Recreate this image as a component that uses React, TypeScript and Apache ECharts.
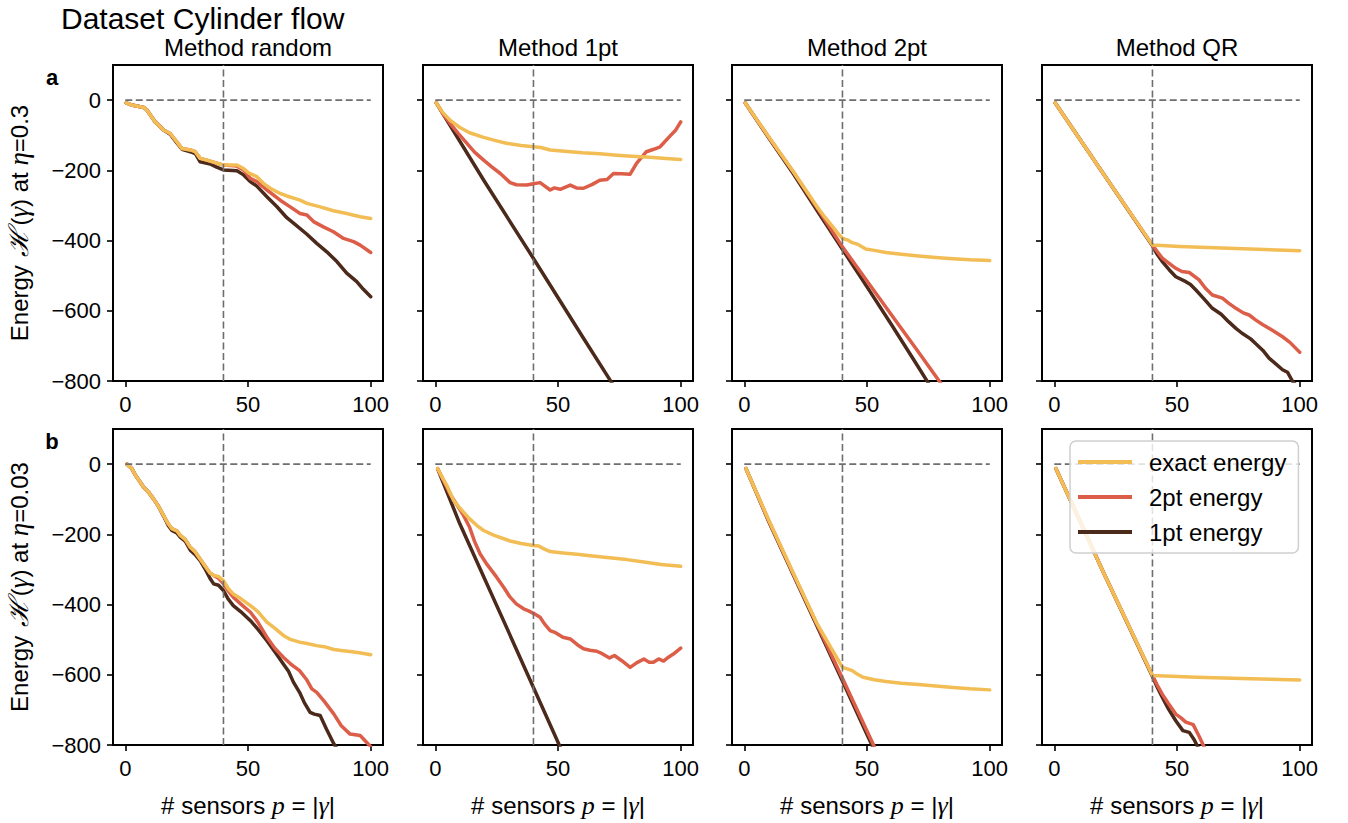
import React, { useEffect, useRef } from 'react';
import * as echarts from 'echarts';

const FONT = '"Liberation Sans", Arial, Helvetica, sans-serif';
const MATH = '"Liberation Serif", "DejaVu Serif", serif';

const C_EXACT = '#f2bd54';
const C_TWO = '#dc5e49';
const C_ONE = '#4b2a1b';
const C_REF = '#6e6e6e';

const methods = ['Method random', 'Method 1pt', 'Method 2pt', 'Method QR'];
const etas = ['0.3', '0.03'];
const rowTags = ['a', 'b'];
const seriesNames = ['exact energy', '2pt energy', '1pt energy'];
const xTicks = [0, 50, 100];
const yTicks = [-800, -600, -400, -200, 0];
const refX = 40;

// ---- row a (eta = 0.3) ----
const a1Early = [[0.4, -8], [2.7, -14], [7.5, -21], [8.8, -28], [12.2, -62], [15.6, -85], [18.3, -95], [21, -119], [23.1, -138], [26.5, -142], [28.5, -147], [30.5, -166], [33.2, -171], [36.6, -178], [40, -185]];
const a1ExactTail = [[45.5, -185], [48.2, -195], [50.2, -207], [53.6, -218], [56.3, -237], [59, -251], [63.1, -266], [65.8, -273], [71.2, -285], [74, -294], [79.4, -304], [84.8, -315], [90.2, -323], [95.7, -332], [100, -337]];
const a1TwoTail = [[45.5, -188], [48.2, -199], [50.9, -223], [53.6, -232], [57.7, -256], [63.1, -285], [67.2, -304], [71.2, -323], [74, -327], [76.7, -346], [80.7, -361], [84.8, -375], [88.9, -394], [93, -403], [95.7, -413], [100, -434]];
const a1One = [[0.4, -8], [2.7, -14], [7.5, -21], [8.8, -28], [12.2, -62], [15.6, -85], [18.3, -97], [21, -122], [23.1, -140], [26.5, -147], [28.5, -152], [30.5, -176], [34.6, -182], [37, -190], [40, -199], [45.5, -201], [48.2, -213], [50.9, -232], [53.6, -245], [57.7, -275], [61.7, -303], [65.8, -335], [69.9, -358], [74, -382], [78, -408], [82.1, -432], [86.2, -460], [90.2, -493], [94.3, -517], [97, -539], [100, -560]];

const a2Exact = [[0.4, -8], [3, -35], [6, -57], [10, -78], [14, -93], [19.7, -106], [25, -116], [29, -123], [35, -129], [40, -133], [43, -135], [46.8, -142], [55, -147], [60, -150], [67, -153], [74, -157], [80, -160], [87.5, -163], [94, -166], [100, -169]];
const a2Two = [[0.4, -8], [3, -38], [6, -66], [9.5, -96], [12.9, -123], [16, -148], [19.7, -171], [23, -190], [26.5, -209], [30.5, -235], [33, -241], [37.3, -242], [40, -238], [42.7, -235], [46.8, -256], [48.5, -250], [50.9, -254], [55, -242], [57.5, -250], [60.4, -251], [64, -240], [67, -228], [70, -226], [72.6, -209], [76, -210], [79.4, -211], [82, -180], [86, -147], [89, -140], [91.6, -133], [95.7, -102], [98, -85], [100, -62]];
const a2One = [[0.4, -8], [20, -231], [40, -451], [60, -674], [72, -806]];

const a3Exact = [[0.4, -8], [10, -105], [20, -204], [30, -307], [33, -335], [36, -360], [38, -378], [40, -394], [42, -398], [44, -406], [46, -410], [49.5, -424], [53, -428], [57.7, -434], [64, -439], [71, -444], [78, -448], [85, -452], [92, -455], [100, -457]];
const a3Two = [[0.4, -8], [10, -106], [20, -205], [30, -310], [40, -418], [50, -515], [60, -612], [70, -708], [80, -806]];
const a3One = [[0.4, -8], [10, -108], [20, -210], [30, -318], [40, -425], [50, -532], [60, -640], [70, -750], [75, -806]];

const a4Exact = [[0.4, -8], [20, -210], [40, -413], [51, -417], [71, -422], [100, -429]];
const a4Two = [[0.4, -8], [20, -210], [40, -413], [42, -432], [44, -450], [46.8, -465], [49.5, -479], [52, -488], [55, -491], [59, -512], [61.5, -535], [64.4, -555], [68.5, -564], [71, -578], [74, -593], [77, -606], [79.4, -612], [82, -626], [85, -640], [89, -656], [93, -674], [96, -690], [100, -718]];
const a4One = [[0.4, -8], [20, -210], [40, -415], [42, -440], [44, -460], [46.8, -483], [49.5, -503], [53.6, -517], [55.5, -525], [57.7, -541], [61, -566], [64.4, -593], [68, -610], [71, -631], [74, -650], [76.5, -664], [80, -680], [82, -693], [85, -713], [87.5, -735], [90, -750], [93, -768], [95, -775], [97, -800], [99, -815]];

// ---- row b (eta = 0.03) ----
const b1Early = [[0.7, 0], [1.5, -5], [2.7, -13], [4, -30], [5.5, -45], [7.5, -66], [9.5, -80], [11.5, -99], [13.5, -120], [15.6, -146], [17.5, -170], [19, -184], [21, -190], [22.4, -203], [24.5, -215], [26.5, -237], [28.5, -250], [30.5, -270], [32.5, -290], [34.5, -310], [36, -317]];
const b1ExactTail = [[38, -320], [40, -332], [42, -355], [44, -370], [47, -383], [51, -403], [54, -420], [57.7, -450], [61, -468], [64.4, -488], [67.5, -500], [71, -507], [74, -511], [78, -517], [81, -520], [85, -528], [88, -531], [91.6, -534], [96, -538], [100, -543]];
const b1TwoTail = [[38, -325], [40, -340], [42, -362], [44, -379], [47, -398], [51, -422], [54, -450], [57.7, -493], [61, -525], [64.4, -550], [67.5, -570], [71, -588], [74, -615], [76, -640], [78, -650], [81, -675], [85, -712], [88, -745], [91.6, -769], [93, -770], [95.7, -773], [98, -790], [100, -805]];
const b1One = [[0.7, 0], [1.5, -5], [2.7, -13], [4, -30], [5.5, -45], [7.5, -66], [9.5, -80], [11.5, -99], [13.5, -120], [15.6, -148], [17.5, -175], [19, -189], [21, -196], [22.4, -208], [24.5, -220], [26.5, -245], [28.5, -258], [30.5, -275], [32.5, -298], [34.5, -325], [36, -341], [38, -345], [40, -360], [42, -385], [44, -403], [47, -420], [51, -446], [54, -470], [57.7, -503], [61, -535], [64.4, -569], [66.5, -590], [68.5, -621], [71, -650], [73, -680], [75.3, -707], [77, -712], [79.4, -716], [82, -755], [85, -797], [86, -808]];

const b2Exact = [[1, -13], [3, -40], [5, -65], [7.5, -104], [10, -125], [14, -156], [17, -175], [19.7, -189], [24, -203], [30.5, -219], [35, -226], [40, -232], [42, -233], [44.5, -242], [46.8, -249], [52, -253], [57.7, -257], [64, -262], [71, -267], [78, -272], [85, -279], [92, -286], [100, -291]];
const b2Two = [[1, -13], [3, -42], [6, -85], [9, -118], [11.5, -146], [14, -180], [16, -220], [18.3, -256], [21, -285], [25, -322], [28, -352], [30.5, -379], [33, -398], [36, -412], [38, -418], [40, -425], [42.7, -436], [44.5, -455], [46.8, -474], [49, -480], [52, -493], [55, -498], [58, -515], [60.4, -526], [63, -530], [65.8, -533], [68, -540], [71, -552], [73, -545], [76, -560], [79.4, -579], [82, -566], [85, -555], [87, -564], [88.9, -564], [91, -555], [93, -561], [95, -550], [97, -541], [100, -524]];
const b2One = [[1, -14], [10, -170], [20, -325], [30, -480], [40, -636], [50, -792], [51, -808]];

const b3Exact = [[0.7, -13], [10, -160], [20, -311], [29.3, -450], [33, -495], [36, -531], [38, -555], [40, -579], [42, -583], [44, -588], [46, -598], [48.4, -607], [53, -614], [57.7, -619], [64, -624], [71, -628], [78, -632], [85, -636], [92, -640], [100, -643]];
const b3Two = [[0.7, -13], [10, -162], [20, -313], [30, -462], [40, -610], [50, -760], [53, -805]];
const b3One = [[0.7, -13], [10, -164], [20, -316], [30, -467], [40, -618], [50, -770], [52.4, -806]];

const b4Exact = [[0.7, -13], [20, -308], [40, -602], [58, -607], [80, -611], [100, -615]];
const b4Two = [[0.7, -13], [20, -308], [40, -602], [42, -630], [44, -655], [46.5, -682], [49.5, -712], [51.5, -722], [53.6, -735], [56.6, -742], [59, -775], [61, -805]];
const b4One = [[0.7, -13], [20, -308], [40, -605], [42, -636], [44, -664], [46.5, -697], [49.5, -731], [52.4, -759], [55, -764], [57, -785], [58.5, -806]];

const panels = [
  [[...a1Early, ...a1ExactTail], [...a1Early, ...a1TwoTail], a1One],
  [a2Exact, a2Two, a2One],
  [a3Exact, a3Two, a3One],
  [a4Exact, a4Two, a4One],
  [[...b1Early, ...b1ExactTail], [...b1Early, ...b1TwoTail], b1One],
  [b2Exact, b2Two, b2One],
  [b3Exact, b3Two, b3One],
  [b4Exact, b4Two, b4One],
];

const colLeft = [113, 423, 732, 1042];
const rowTop = [65, 429];
const PW = 270;
const PH = 316;
const TICK_FS = 22;
const LABEL_FS = 24;

const minusFmt = (v: number) => (v < 0 ? '\u2212' + Math.abs(v) : String(v));

function buildOption() {
  const grid: any[] = [];
  const xAxis: any[] = [];
  const yAxis: any[] = [];
  const series: any[] = [];
  const graphic: any[] = [];
  for (let i = 0; i < 8; i++) {
    const r = Math.floor(i / 4);
    const c = i % 4;
    grid.push({
      left: colLeft[c], top: rowTop[r], width: PW, height: PH,
      show: true, borderColor: '#000', borderWidth: 2, backgroundColor: 'transparent',
    });
    xAxis.push({
      type: 'value', gridIndex: i, min: -5, max: 105, position: 'bottom',
      axisLine: { show: false, onZero: false }, splitLine: { show: false },
      axisTick: { show: true, length: 6, customValues: xTicks, lineStyle: { color: '#000', width: 1.6 } },
      axisLabel: { customValues: xTicks, fontSize: TICK_FS, color: '#000', fontFamily: FONT, margin: 12 },
    });
    yAxis.push({
      type: 'value', gridIndex: i, min: -800, max: 100, position: 'left',
      axisLine: { show: false, onZero: false }, splitLine: { show: false },
      axisTick: { show: true, length: 6, customValues: yTicks, lineStyle: { color: '#000', width: 1.6 } },
      axisLabel: { show: c === 0, customValues: yTicks, fontSize: TICK_FS, color: '#000', fontFamily: FONT, margin: 12, formatter: minusFmt },
    });
    const [ex, two, one] = panels[i];
    const order = [[one, 2, C_ONE], [two, 1, C_TWO], [ex, 0, C_EXACT]] as any[];
    order.forEach(([data, ni, color]) => {
      series.push({
        type: 'line', name: seriesNames[ni], xAxisIndex: i, yAxisIndex: i, data,
        symbol: 'none', showSymbol: false, clip: true,
        lineStyle: { width: 3.5, color, join: 'round', cap: 'round' }, itemStyle: { color },
      });
    });
    series.push({
      type: 'line', name: 'ref-h', xAxisIndex: i, yAxisIndex: i, data: [[0, 0], [100, 0]],
      symbol: 'none', silent: true, lineStyle: { width: 1.6, color: C_REF, type: [7, 3.5] },
    });
    series.push({
      type: 'line', name: 'ref-v', xAxisIndex: i, yAxisIndex: i, data: [[refX, -800], [refX, 100]],
      symbol: 'none', silent: true, lineStyle: { width: 1.6, color: C_REF, type: [7, 3.5] },
    });
  }

  graphic.push({
    type: 'text', x: 61, y: 18,
    style: { text: 'Dataset Cylinder flow', fontSize: 30, fontFamily: FONT, fill: '#000', verticalAlign: 'middle', textVerticalAlign: 'middle' },
  });
  methods.forEach((m, c) => {
    graphic.push({
      type: 'text', x: colLeft[c] + PW / 2, y: 47,
      style: { text: m, fontSize: LABEL_FS, fontFamily: FONT, fill: '#000', align: 'center', textAlign: 'center', verticalAlign: 'middle', textVerticalAlign: 'middle' },
    });
    graphic.push({
      type: 'text', x: colLeft[c] + PW / 2, y: 805,
      style: {
        text: '# sensors {i|p} = |{i|\u03b3}|',
        fontSize: LABEL_FS, fontFamily: FONT, fill: '#000', align: 'center', textAlign: 'center', verticalAlign: 'middle', textVerticalAlign: 'middle',
        rich: { i: { fontFamily: MATH, fontStyle: 'italic', fontSize: 26, fill: '#000' } },
      },
    });
  });
  rowTags.forEach((t, r) => {
    graphic.push({
      type: 'text', x: 52, y: rowTop[r] + 12,
      style: { text: t, fontSize: 22, fontWeight: 'bold', fontFamily: FONT, fill: '#000', align: 'center', textAlign: 'center', verticalAlign: 'middle', textVerticalAlign: 'middle' },
    });
    graphic.push({
      type: 'text', x: 19, y: rowTop[r] + PH / 2, rotation: Math.PI / 2,
      style: {
        text: 'Energy {m|\u210b}({i|\u03b3}) at {i|\u03b7}=' + etas[r],
        fontSize: LABEL_FS, fontFamily: FONT, fill: '#000', align: 'center', textAlign: 'center', verticalAlign: 'middle', textVerticalAlign: 'middle',
        rich: {
          i: { fontFamily: MATH, fontStyle: 'italic', fontSize: 27, fill: '#000' },
          m: { fontFamily: MATH, fontStyle: 'italic', fontSize: 27, fill: '#000', padding: [0, 2, 0, 2] },
        },
      },
    });
  });

  return {
    animation: false,
    backgroundColor: '#fff',
    grid, xAxis, yAxis, series, graphic,
    legend: {
      data: seriesNames, orient: 'vertical', left: 1070, top: 441,
      icon: 'rect', itemWidth: 54, itemHeight: 4, itemGap: 11,
      padding: [9, 12, 9, 8],
      backgroundColor: 'rgba(255,255,255,0.8)', borderColor: '#cfcfcf', borderWidth: 1.5, borderRadius: 6,
      textStyle: { fontSize: 24, color: '#000', fontFamily: FONT, padding: [0, 0, 0, 12] },
      selectedMode: false,
    },
  };
}

export default function App() {
  const ref = useRef<HTMLDivElement>(null);
  useEffect(() => {
    if (!ref.current) return;
    const chart = echarts.init(ref.current, undefined, { renderer: 'svg' });
    chart.setOption(buildOption() as any);
    return () => chart.dispose();
  }, []);
  return <div ref={ref} style={{ position: 'absolute', left: 0, top: 0, width: 1348, height: 823 }} />;
}
